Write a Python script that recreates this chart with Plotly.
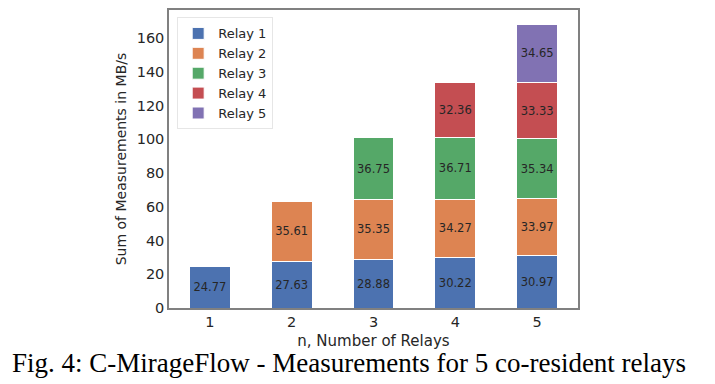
import plotly.graph_objects as go

relays_n = [1, 2, 3, 4, 5]
series_names = ["Relay 1", "Relay 2", "Relay 3", "Relay 4", "Relay 5"]
relay1 = [24.77, 27.63, 28.88, 30.22, 30.97]
relay2 = [None, 35.61, 35.35, 34.27, 33.97]
relay3 = [None, None, 36.75, 36.71, 35.34]
relay4 = [None, None, None, 32.36, 33.33]
relay5 = [None, None, None, None, 34.65]
series_values = [relay1, relay2, relay3, relay4, relay5]
colors = ["#4C72B0", "#DD8452", "#55A868", "#C44E52", "#8172B3"]

fig = go.Figure()
for name, vals, c in zip(series_names, series_values, colors):
    fig.add_trace(go.Bar(
        x=relays_n, y=vals, name=name, width=0.5,
        marker=dict(color=c, line=dict(color="white", width=1)),
        text=[("%.2f" % v) if v is not None else "" for v in vals],
        textposition="inside", insidetextanchor="middle",
        textfont=dict(family="DejaVu Sans", size=11.5, color="#262626"),
        textangle=0, cliponaxis=False,
    ))

totals = [sum(v for v in col if v is not None) for col in zip(*series_values)]
ymax = max(totals) * 1.05

# page has an 8px body margin; figure is sized / positioned to compensate
fig.update_layout(
    barmode="stack",
    width=707, height=376,
    margin=dict(l=161, r=137, t=0, b=76),
    plot_bgcolor="white", paper_bgcolor="white",
    font=dict(family="DejaVu Sans", color="#262626"),
    uniformtext=dict(minsize=8, mode="show"),
    legend=dict(
        x=0.02, y=0.975, xanchor="left", yanchor="top",
        bgcolor="rgba(255,255,255,0.8)", bordercolor="#e6e6e6", borderwidth=1,
        font=dict(size=13, color="#262626"), traceorder="normal",
        itemwidth=30, tracegroupgap=0,
    ),
    xaxis=dict(
        range=[0.5, 5.5], tickmode="array", tickvals=relays_n,
        ticktext=[str(n) for n in relays_n],
        tickfont=dict(size=14.5, color="#262626"),
        showgrid=False, zeroline=False,
        showline=True, linecolor="#808080", linewidth=1.5, mirror=True,
        ticks="", ticklen=0,
        title=dict(text="n, Number of Relays", font=dict(size=15, color="#262626"), standoff=6),
    ),
    yaxis=dict(
        range=[0, ymax], tickmode="array", tickvals=[0, 20, 40, 60, 80, 100, 120, 140, 160],
        tickfont=dict(size=14.5, color="#262626"),
        showgrid=False, zeroline=False,
        showline=True, linecolor="#808080", linewidth=1.5, mirror=True,
        ticks="", ticklen=0,
        title=dict(text="Sum of Measurements in MB/s", font=dict(size=14, color="#262626"), standoff=7),
    ),
)

fig.add_annotation(
    text="Fig. 4: C-MirageFlow - Measurements for 5 co-resident relays",
    xref="paper", yref="paper", x=(341 - 161) / 409, y=(300 - 355) / 300,
    xanchor="center", yanchor="middle", showarrow=False,
    font=dict(family="Liberation Serif", size=27, color="black"),
)

fig.write_html("out.html")
